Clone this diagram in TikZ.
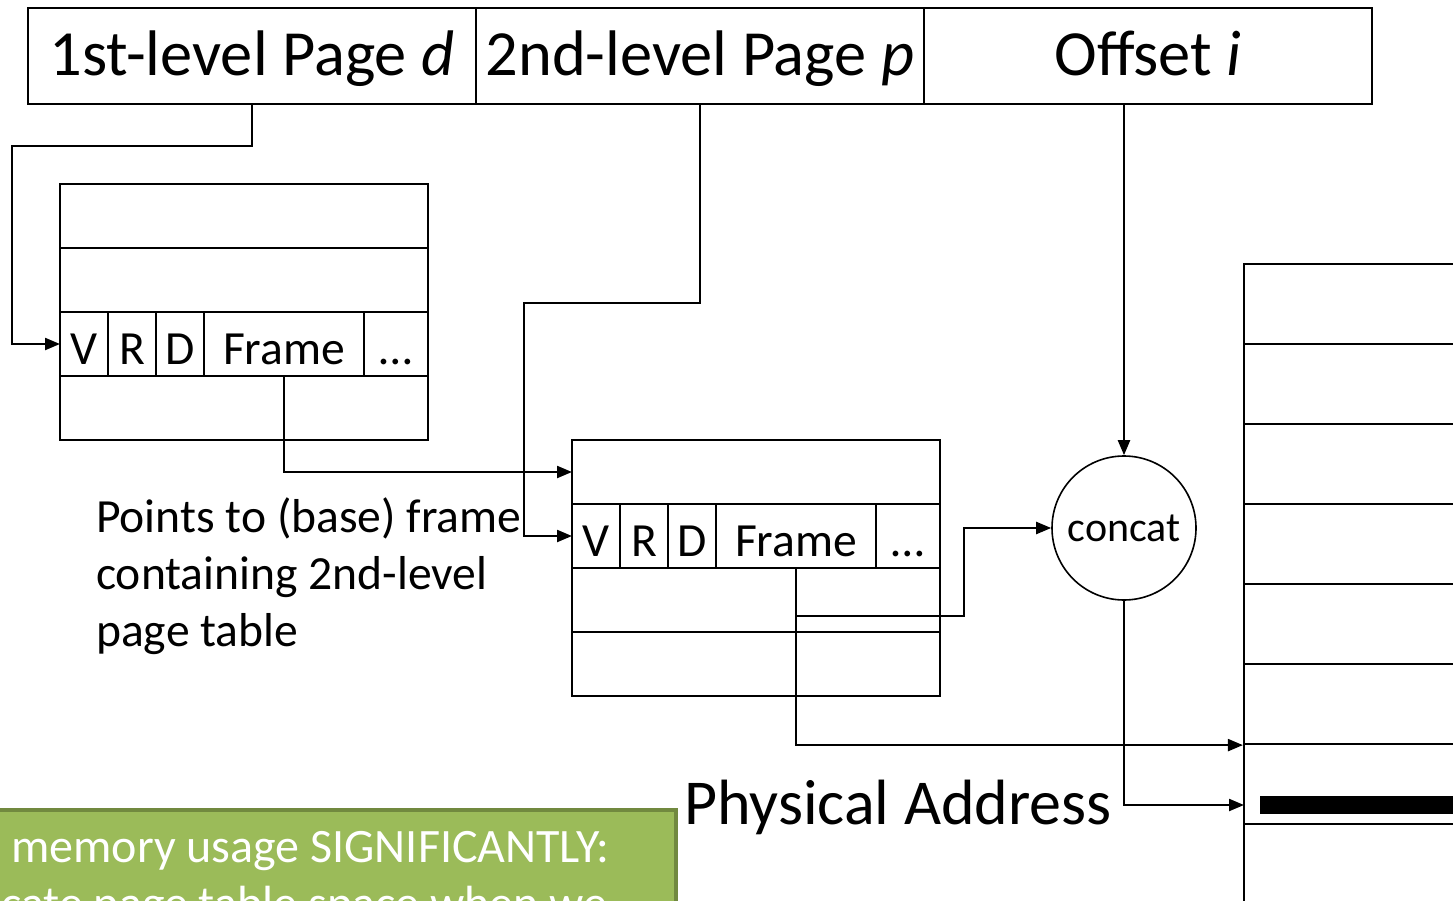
\documentclass[tikz,border=0pt]{standalone}
\usepackage{fontspec}
\setmainfont{Carlito}
\usetikzlibrary{arrows.meta,calc}
\definecolor{sgreen}{RGB}{155,187,89}
\definecolor{sgreenb}{RGB}{113,137,63}
\begin{document}
\begin{tikzpicture}[x=1pt,y=-1pt,
  lw/.style={line width=2.2pt},
  cell/.style={draw,lw,rectangle,inner sep=0pt,outer sep=0pt,minimum height=64pt,text height=40pt,text depth=0pt},
  hcell/.style={draw,lw,rectangle,inner sep=0pt,outer sep=0pt,minimum height=96pt,minimum width=448pt,
    text height=45pt,text depth=6pt,font=\fontsize{64.4}{76}\selectfont},
  tfont/.style={font=\fontsize{47.6}{57}\selectfont},
  ttext/.style={tfont,anchor=base west,inner sep=0pt},
  gtext/.style={font=\fontsize{48}{57}\selectfont,text=white,anchor=base east,inner sep=0pt},
  arr/.style={lw,-{Triangle[length=15pt,width=12pt]}}
]
\useasboundingbox (0,0) rectangle (1453,901);
\clip (0,0) rectangle (1453,901);

% header
\node[hcell] (h1) at (252,56) {1st-level Page \textit{d}};
\node[hcell] (h2) at (700,56) {2nd-level Page \textit{p}};
\node[hcell] (h3) at (1148,56) {Offset \textit{i}};

% first-level table
\node[cell,minimum width=368pt] (t1a) at (244,216) {};
\node[cell,minimum width=368pt] (t1b) at (244,280) {};
\node[cell,tfont,minimum width=48pt] (t1v) at (84,344) {V};
\node[cell,tfont,minimum width=48pt] (t1r) at (132,344) {R};
\node[cell,tfont,minimum width=48pt] (t1d) at (180,344) {D};
\node[cell,tfont,minimum width=160pt] (t1f) at (284,344) {Frame};
\node[cell,tfont,minimum width=64pt] (t1e) at (396,344) {…};
\node[cell,minimum width=368pt] (t1c) at (244,408) {};

% second-level table
\node[cell,minimum width=368pt] (t2a) at (756,472) {};
\node[cell,tfont,minimum width=48pt] (t2v) at (596,536) {V};
\node[cell,tfont,minimum width=48pt] (t2r) at (644,536) {R};
\node[cell,tfont,minimum width=48pt] (t2d) at (692,536) {D};
\node[cell,tfont,minimum width=160pt] (t2f) at (796,536) {Frame};
\node[cell,tfont,minimum width=64pt] (t2e) at (908,536) {…};
\node[cell,minimum width=368pt] (t2b) at (756,600) {};
\node[cell,minimum width=368pt] (t2c) at (756,664) {};

% concat
\node[draw,circle,line width=1.6pt,minimum size=144pt,inner sep=0pt,font=\fontsize{42}{48}\selectfont] (cc) at (1124,528) {concat};

% physical memory
\foreach \k/\y in {1/304,2/384,3/464,4/544,5/624,6/704,7/784,8/864}{
  \node[draw,lw,rectangle,inner sep=0pt,minimum width=240pt,minimum height=80pt] (m\k) at (1364,\y) {};
}
\coordinate (pa) at (1244,805);
\draw[line width=18pt] (1260,805) -- (1470,805);

% texts
\node[ttext] (note1) at (96,532) {Points to (base) frame};
\node[ttext] (note2) at (96,589) {containing 2nd-level};
\node[ttext] (note3) at (96,646) {page table};
\node[font=\fontsize{64}{76}\selectfont,anchor=base west,inner sep=0pt] (phys) at (684,824) {Physical Address};

% green box
\node[draw=sgreenb,fill=sgreen,line width=4pt,rectangle,anchor=north west,minimum width=692pt,minimum height=120pt,inner sep=0pt] (gb) at (-18,808) {};
\node[gtext] (g1) at (609,862) {Reduces memory usage SIGNIFICANTLY:};
\node[gtext] (g2) at (608,919) {Only allocate page table space when we};

% connectors
\draw[arr] (h1.south) -- ++(0,42) -| (12,344) -- (t1v.west);
\draw[arr] (t1f.south) |- (t2a.west);
\draw[arr] (h2.south) |- (524,303) |- (t2v.west);
\draw[arr] (cc.north |- h3.south) -- (cc.north);
\draw[arr] (t2f.south) |- (964,616) |- (cc.west);
\draw[arr] (t2f.south) |- (m6.south west);
\draw[arr] (cc.south) |- (pa);
\end{tikzpicture}
\end{document}
